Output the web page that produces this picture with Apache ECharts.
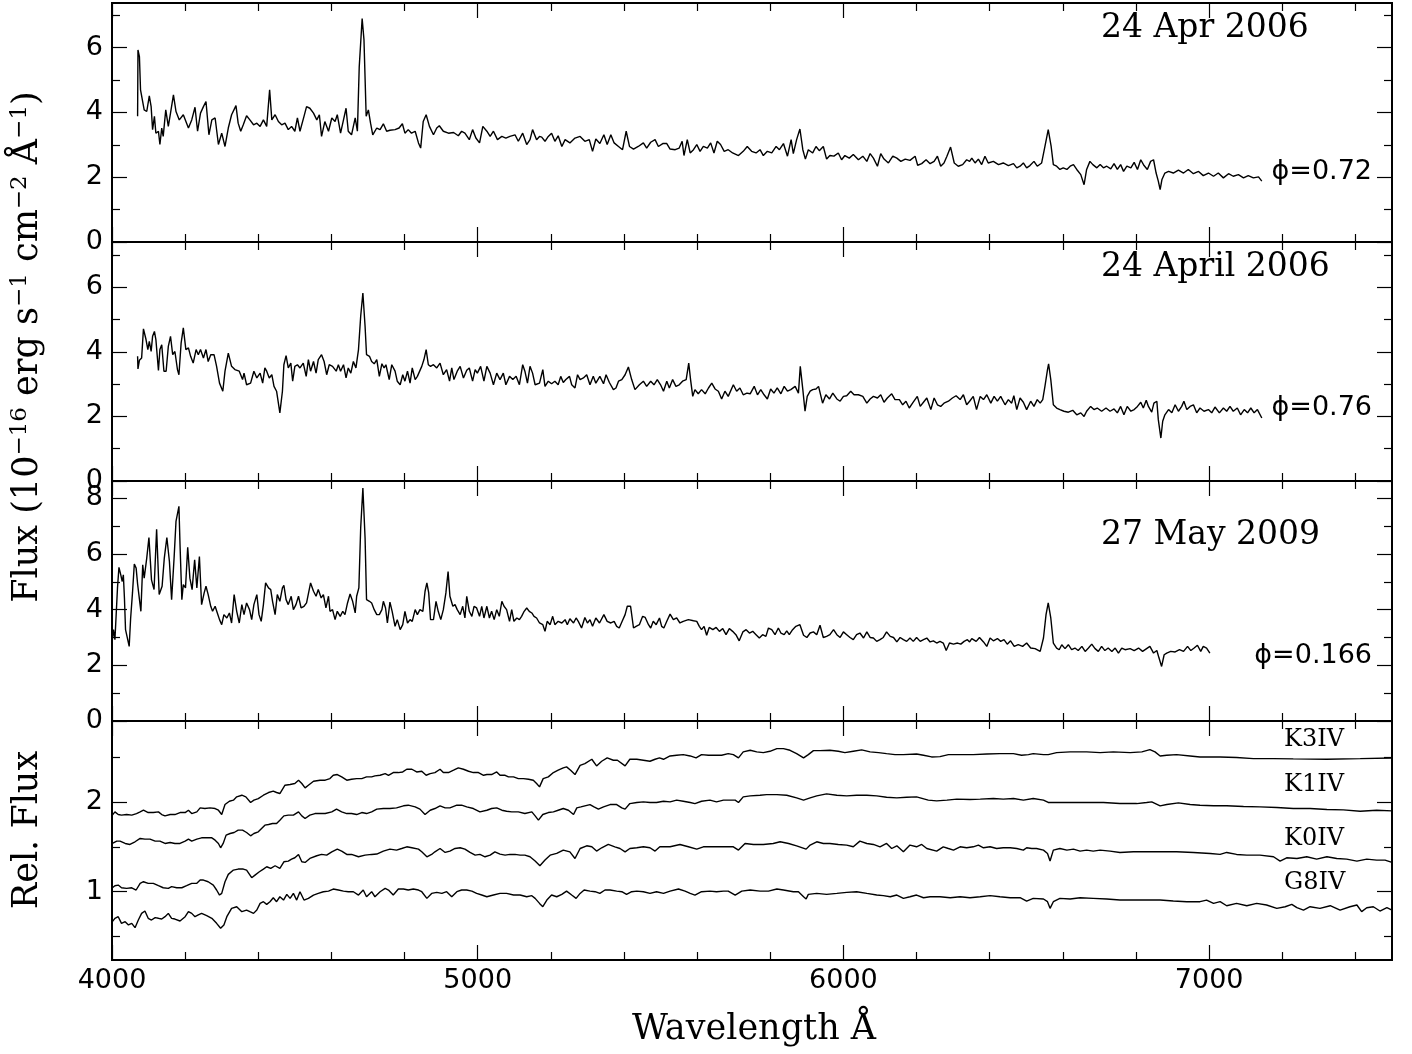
<!DOCTYPE html>
<html>
<head>
<meta charset="utf-8">
<script src="https://cdn.jsdelivr.net/npm/echarts@6/dist/echarts.min.js"></script>
<style>html,body{margin:0;padding:0;background:#fff}#c{width:1412px;height:1054px}</style>
</head>
<body>
<div id="c"></div>
<script>
// ---------- DATA ----------
const wavelengthMajor = [4000, 5000, 6000, 7000];
const wavelengthMinor = [4200,4400,4600,4800,5200,5400,5600,5800,6200,6400,6600,6800,7200,7400];

const dateLabels = ['24 Apr 2006', '24 April 2006', '27 May 2009'];
const phaseLabels = ['\u03d5=0.72', '\u03d5=0.76', '\u03d5=0.166'];
const templateNames = ['K3IV', 'K1IV', 'K0IV', 'G8IV'];

// Spectrum 1: 24 Apr 2006 (phi = 0.72)  [wavelength, flux]
const spec2006a = [[4070,3.88],[4071,5.93],[4075,5.72],[4078,4.70],[4083,4.65],[4088,4.08],[4095,4.03],[4102,4.51],[4107,4.18],[4111,3.47],[4116,3.88],[4120,3.36],[4127,3.42],[4131,3.01],[4136,3.52],[4140,3.26],[4147,4.08],[4154,3.57],[4160,3.98],[4168,4.54],[4175,4.03],[4184,3.77],[4195,3.93],[4209,3.52],[4218,3.77],[4227,4.16],[4234,3.42],[4242,3.98],[4250,4.18],[4257,4.34],[4265,3.31],[4273,3.77],[4282,3.83],[4291,3.01],[4300,3.36],[4309,2.95],[4318,3.52],[4327,3.93],[4339,4.21],[4345,3.67],[4352,3.42],[4359,3.62],[4368,3.90],[4377,3.77],[4387,3.62],[4396,3.67],[4405,3.57],[4414,3.77],[4423,3.57],[4431,4.70],[4437,3.77],[4446,3.93],[4455,3.72],[4464,3.62],[4473,3.67],[4482,3.47],[4491,3.57],[4500,3.42],[4507,3.83],[4514,3.42],[4525,3.88],[4532,4.18],[4541,4.13],[4551,3.98],[4560,3.77],[4567,3.93],[4573,3.26],[4582,3.72],[4592,3.42],[4601,3.83],[4610,3.72],[4616,3.93],[4625,3.36],[4633,3.77],[4640,4.13],[4646,3.42],[4655,3.31],[4665,3.83],[4671,3.42],[4676,5.40],[4684,6.90],[4689,6.24],[4695,3.88],[4701,4.08],[4707,3.67],[4713,3.31],[4724,3.52],[4733,3.47],[4742,3.65],[4751,3.42],[4760,3.45],[4774,3.47],[4785,3.52],[4794,3.65],[4801,3.36],[4810,3.47],[4819,3.36],[4829,3.42],[4838,3.06],[4844,2.90],[4851,3.72],[4859,3.93],[4868,3.57],[4879,3.31],[4888,3.52],[4895,3.59],[4906,3.42],[4920,3.36],[4934,3.38],[4947,3.28],[4956,3.42],[4965,3.36],[4977,3.16],[4986,3.47],[4995,3.21],[5005,3.06],[5014,3.57],[5025,3.42],[5034,3.26],[5043,3.42],[5054,3.16],[5066,3.26],[5077,3.21],[5088,3.26],[5102,3.31],[5111,3.11],[5123,3.36],[5134,3.01],[5143,3.16],[5150,3.47],[5161,3.16],[5169,3.26],[5175,3.24],[5184,3.11],[5193,3.26],[5202,3.36],[5211,3.11],[5220,3.28],[5230,2.95],[5239,3.16],[5252,3.06],[5266,3.21],[5280,3.26],[5293,3.11],[5305,3.16],[5314,2.80],[5323,3.18],[5334,3.04],[5345,3.31],[5354,3.01],[5364,3.31],[5373,3.06],[5385,2.95],[5396,2.85],[5406,3.42],[5415,2.95],[5426,2.87],[5439,2.95],[5453,3.06],[5462,2.90],[5473,3.08],[5485,3.16],[5494,2.95],[5506,3.04],[5517,3.04],[5526,2.87],[5540,2.85],[5551,2.90],[5559,3.11],[5564,2.67],[5573,3.16],[5581,2.75],[5590,2.85],[5599,3.01],[5608,2.80],[5617,2.95],[5628,2.90],[5637,3.06],[5646,2.75],[5655,3.11],[5664,3.01],[5674,2.80],[5685,2.85],[5697,2.75],[5713,2.67],[5726,2.80],[5737,2.95],[5749,2.80],[5761,2.75],[5772,2.85],[5781,2.67],[5792,2.80],[5804,2.75],[5816,2.95],[5825,2.85],[5836,3.04],[5847,2.65],[5857,3.16],[5863,2.73],[5872,3.16],[5881,3.49],[5889,2.85],[5896,2.56],[5904,2.85],[5916,2.75],[5925,2.95],[5934,2.82],[5945,2.95],[5954,2.56],[5963,2.67],[5974,2.65],[5986,2.75],[5995,2.54],[6004,2.67],[6016,2.59],[6027,2.70],[6041,2.54],[6053,2.65],[6064,2.49],[6073,2.73],[6082,2.59],[6093,2.34],[6102,2.73],[6111,2.56],[6123,2.44],[6135,2.65],[6146,2.59],[6157,2.49],[6169,2.56],[6182,2.52],[6196,2.65],[6203,2.37],[6214,2.42],[6226,2.54],[6237,2.42],[6248,2.49],[6257,2.65],[6266,2.34],[6275,2.44],[6283,2.65],[6293,2.93],[6303,2.44],[6314,2.34],[6326,2.39],[6337,2.54],[6345,2.49],[6351,2.59],[6360,2.44],[6369,2.56],[6378,2.39],[6387,2.65],[6396,2.44],[6410,2.49],[6424,2.39],[6437,2.44],[6451,2.36],[6465,2.42],[6474,2.29],[6483,2.34],[6492,2.44],[6501,2.29],[6510,2.36],[6521,2.49],[6530,2.34],[6542,2.44],[6551,2.95],[6560,3.47],[6568,2.95],[6574,2.39],[6583,2.34],[6592,2.24],[6601,2.29],[6611,2.24],[6620,2.34],[6629,2.39],[6638,2.24],[6649,2.08],[6658,1.77],[6665,2.24],[6674,2.49],[6682,2.39],[6693,2.29],[6702,2.39],[6711,2.29],[6720,2.34],[6731,2.26],[6740,2.42],[6749,2.24],[6758,2.39],[6766,2.18],[6775,2.34],[6786,2.29],[6795,2.46],[6804,2.24],[6813,2.54],[6822,2.36],[6831,2.24],[6840,2.49],[6848,2.54],[6855,2.13],[6861,1.88],[6866,1.62],[6871,1.93],[6879,2.13],[6889,2.18],[6902,2.13],[6916,2.22],[6930,2.13],[6943,2.24],[6957,2.11],[6971,2.18],[6984,2.05],[6998,2.13],[7012,2.03],[7025,2.13],[7039,1.98],[7053,2.11],[7066,2.03],[7080,2.08],[7094,1.98],[7107,2.05],[7121,1.98],[7135,2.01],[7144,1.88]];

// Spectrum 2: 24 April 2006 (phi = 0.76)
const spec2006b = [[4070,3.86],[4071,3.47],[4075,3.74],[4081,3.81],[4086,4.71],[4093,4.38],[4098,4.07],[4102,4.32],[4107,4.01],[4111,4.48],[4116,4.63],[4120,4.38],[4127,3.42],[4131,4.07],[4136,4.22],[4142,3.40],[4148,3.40],[4154,4.17],[4160,4.48],[4166,3.91],[4172,4.01],[4179,3.45],[4183,3.29],[4189,4.27],[4195,4.74],[4202,4.07],[4209,4.12],[4215,3.86],[4222,3.65],[4230,4.07],[4236,3.91],[4242,4.07],[4250,3.81],[4257,4.07],[4263,3.70],[4270,3.91],[4279,3.91],[4286,3.55],[4294,3.03],[4303,2.78],[4309,3.40],[4318,3.96],[4327,3.55],[4336,3.45],[4348,3.40],[4357,3.14],[4361,3.34],[4368,2.98],[4379,3.03],[4388,3.40],[4396,3.19],[4405,3.34],[4412,3.03],[4418,3.50],[4423,3.40],[4430,3.19],[4437,3.29],[4443,2.93],[4450,2.78],[4459,2.11],[4466,2.78],[4470,3.60],[4476,3.88],[4482,3.50],[4489,3.65],[4494,3.09],[4500,3.55],[4507,3.60],[4514,3.50],[4523,3.65],[4531,3.24],[4537,3.76],[4543,3.40],[4551,3.70],[4558,3.34],[4564,3.76],[4573,3.91],[4580,3.70],[4587,3.29],[4594,3.60],[4603,3.55],[4613,3.40],[4619,3.60],[4625,3.40],[4633,3.60],[4640,3.19],[4646,3.50],[4653,3.34],[4660,3.70],[4667,3.50],[4674,4.07],[4680,5.10],[4686,5.82],[4692,4.79],[4696,3.91],[4704,3.86],[4710,3.70],[4717,3.63],[4724,3.76],[4731,3.24],[4738,3.63],[4744,3.50],[4749,3.60],[4758,3.14],[4765,3.60],[4774,3.40],[4780,3.09],[4788,2.98],[4795,3.29],[4801,3.09],[4808,3.40],[4815,3.03],[4821,3.50],[4829,3.14],[4835,3.24],[4840,3.24],[4847,3.55],[4853,3.76],[4859,4.07],[4865,3.60],[4871,3.55],[4879,3.60],[4888,3.50],[4897,3.65],[4906,3.29],[4915,3.45],[4923,3.09],[4929,3.50],[4935,3.14],[4944,3.40],[4952,3.55],[4961,3.19],[4970,3.43],[4977,3.50],[4986,3.09],[4993,3.45],[4999,3.34],[5008,3.55],[5017,3.09],[5025,3.55],[5034,3.34],[5043,2.98],[5052,3.34],[5061,3.14],[5070,3.34],[5077,2.98],[5087,3.24],[5096,3.14],[5105,3.24],[5114,2.98],[5123,3.60],[5129,3.40],[5136,3.03],[5143,3.55],[5150,3.34],[5157,2.98],[5161,2.93],[5169,3.03],[5178,3.45],[5184,2.93],[5193,3.09],[5202,3.01],[5211,3.09],[5220,2.98],[5227,3.24],[5234,3.05],[5241,3.14],[5251,3.24],[5257,2.98],[5266,2.88],[5273,3.29],[5280,3.14],[5289,3.19],[5298,3.29],[5307,2.98],[5316,3.24],[5323,3.03],[5334,3.24],[5344,3.01],[5351,3.29],[5360,3.05],[5371,2.83],[5378,2.88],[5385,3.09],[5394,3.14],[5403,3.29],[5412,3.53],[5421,3.14],[5430,2.83],[5442,2.98],[5453,3.09],[5462,2.93],[5473,3.09],[5482,2.98],[5491,3.14],[5500,2.98],[5508,2.78],[5517,3.09],[5524,2.88],[5533,3.14],[5542,2.93],[5551,2.98],[5560,3.09],[5570,3.14],[5577,3.65],[5582,3.14],[5588,2.62],[5594,2.83],[5603,2.70],[5612,2.83],[5622,2.70],[5631,2.88],[5640,3.03],[5649,2.85],[5658,2.78],[5667,2.54],[5676,2.78],[5685,2.62],[5699,2.98],[5708,2.78],[5717,2.88],[5726,2.67],[5736,2.72],[5745,2.70],[5756,2.93],[5765,2.67],[5774,2.83],[5783,2.67],[5792,2.54],[5801,2.85],[5810,2.72],[5819,2.88],[5829,2.70],[5838,2.93],[5847,2.78],[5856,2.83],[5868,2.93],[5877,2.72],[5882,3.55],[5889,2.83],[5895,2.16],[5901,2.62],[5909,2.78],[5916,2.83],[5925,2.85],[5932,2.93],[5943,2.41],[5952,2.67],[5962,2.54],[5971,2.72],[5982,2.54],[5991,2.47],[6000,2.62],[6009,2.64],[6020,2.78],[6029,2.67],[6041,2.67],[6053,2.62],[6064,2.41],[6073,2.54],[6082,2.62],[6093,2.57],[6102,2.67],[6111,2.44],[6120,2.57],[6132,2.70],[6141,2.52],[6153,2.52],[6162,2.36],[6171,2.47],[6180,2.26],[6189,2.41],[6202,2.62],[6210,2.31],[6221,2.47],[6228,2.57],[6239,2.21],[6248,2.57],[6257,2.36],[6266,2.31],[6275,2.41],[6287,2.47],[6298,2.57],[6308,2.64],[6319,2.52],[6328,2.67],[6337,2.36],[6345,2.47],[6355,2.62],[6364,2.21],[6374,2.62],[6383,2.52],[6392,2.67],[6403,2.41],[6412,2.62],[6421,2.47],[6430,2.62],[6442,2.36],[6451,2.52],[6460,2.41],[6466,2.64],[6474,2.21],[6483,2.57],[6492,2.44],[6501,2.21],[6512,2.47],[6521,2.31],[6530,2.52],[6538,2.41],[6545,2.52],[6551,2.93],[6558,3.45],[6561,3.63],[6567,3.14],[6574,2.36],[6583,2.26],[6592,2.21],[6603,2.16],[6615,2.13],[6627,2.19],[6638,2.05],[6649,2.11],[6658,2.00],[6665,2.16],[6676,2.31],[6685,2.21],[6694,2.26],[6706,2.16],[6718,2.26],[6729,2.16],[6740,2.23],[6749,2.11],[6758,2.31],[6767,2.05],[6776,2.31],[6786,2.16],[6795,2.21],[6804,2.31],[6813,2.44],[6820,2.26],[6828,2.50],[6834,2.31],[6843,2.13],[6849,2.41],[6857,2.47],[6861,1.90],[6868,1.33],[6873,1.85],[6879,2.05],[6889,2.21],[6898,2.11],[6907,2.36],[6916,2.16],[6925,2.31],[6931,2.47],[6939,2.21],[6948,2.31],[6957,2.36],[6966,2.11],[6975,2.26],[6986,2.16],[6998,2.21],[7007,2.11],[7016,2.29],[7028,2.11],[7039,2.26],[7048,2.16],[7057,2.31],[7066,2.16],[7077,2.26],[7086,2.05],[7096,2.21],[7105,2.11],[7114,2.26],[7123,2.11],[7132,2.21],[7144,1.95]];

// Spectrum 3: 27 May 2009 (phi = 0.166)
const spec2009 = [[4001,2.92],[4004,3.28],[4008,2.92],[4013,2.98],[4015,4.78],[4019,5.52],[4024,5.25],[4028,5.01],[4031,5.25],[4034,4.42],[4037,3.28],[4042,3.22],[4047,2.68],[4051,3.70],[4056,4.60],[4061,5.64],[4066,5.49],[4070,4.92],[4075,4.90],[4079,3.94],[4084,5.61],[4088,5.13],[4095,5.85],[4101,6.59],[4108,5.07],[4115,4.72],[4122,6.89],[4129,4.54],[4137,4.84],[4143,5.85],[4150,6.59],[4157,5.73],[4163,4.36],[4170,5.91],[4175,7.17],[4179,7.23],[4183,7.71],[4186,6.33],[4191,4.36],[4195,4.90],[4201,4.78],[4207,6.24],[4213,5.13],[4219,4.72],[4226,5.79],[4232,4.78],[4239,5.91],[4245,4.18],[4252,4.60],[4257,4.84],[4263,4.54],[4270,4.12],[4275,3.94],[4282,4.12],[4288,3.88],[4294,3.64],[4300,3.46],[4306,3.82],[4314,3.70],[4321,3.88],[4327,3.52],[4334,4.54],[4341,3.94],[4348,3.52],[4355,4.18],[4361,3.82],[4368,4.24],[4376,4.00],[4382,3.64],[4388,4.18],[4396,4.54],[4402,3.82],[4408,3.58],[4414,4.18],[4420,4.96],[4428,4.78],[4434,4.72],[4439,4.30],[4446,3.82],[4452,4.54],[4459,4.30],[4466,4.78],[4470,4.87],[4476,4.36],[4482,4.18],[4490,4.48],[4496,4.00],[4503,4.18],[4510,4.48],[4517,4.06],[4525,4.12],[4532,4.24],[4537,4.30],[4543,4.96],[4551,4.66],[4558,4.48],[4564,4.72],[4572,4.42],[4578,4.54],[4585,4.06],[4592,4.48],[4596,3.94],[4603,4.00],[4610,3.64],[4616,3.94],[4624,3.76],[4631,3.94],[4637,3.82],[4644,4.24],[4651,4.56],[4658,4.30],[4665,3.88],[4669,4.48],[4675,4.78],[4680,6.93],[4686,8.37],[4692,6.57],[4696,4.36],[4704,4.30],[4710,4.24],[4717,4.00],[4724,3.82],[4731,3.82],[4738,4.00],[4742,4.30],[4748,4.06],[4753,3.52],[4760,4.27],[4766,3.94],[4774,3.40],[4780,3.64],[4788,3.28],[4795,3.46],[4801,3.94],[4808,3.52],[4815,3.64],[4821,3.58],[4829,4.00],[4835,3.82],[4842,4.00],[4850,3.94],[4856,4.66],[4861,4.96],[4866,4.60],[4871,3.64],[4879,3.64],[4886,4.30],[4892,3.94],[4899,3.64],[4906,4.00],[4913,4.60],[4919,5.37],[4924,4.48],[4932,4.12],[4938,4.18],[4944,4.00],[4952,3.82],[4959,4.12],[4965,3.70],[4970,4.48],[4977,3.94],[4984,3.76],[4990,4.12],[4997,4.06],[5005,3.76],[5011,4.12],[5017,3.70],[5025,4.12],[5032,3.70],[5038,3.94],[5045,3.64],[5052,4.00],[5059,3.76],[5066,4.30],[5072,4.12],[5079,4.00],[5087,3.58],[5093,4.00],[5099,3.58],[5107,3.70],[5114,3.64],[5120,3.76],[5127,3.94],[5134,4.06],[5141,3.94],[5148,3.88],[5154,3.76],[5161,3.70],[5169,3.52],[5178,3.46],[5184,3.22],[5190,3.58],[5198,3.46],[5205,3.76],[5211,3.46],[5220,3.58],[5230,3.52],[5239,3.64],[5245,3.46],[5252,3.67],[5262,3.52],[5269,3.70],[5275,3.58],[5284,3.34],[5293,3.72],[5300,3.52],[5307,3.64],[5314,3.40],[5323,3.70],[5333,3.52],[5345,3.82],[5354,3.58],[5364,3.52],[5373,3.58],[5380,3.40],[5387,3.34],[5395,3.58],[5403,3.82],[5409,4.12],[5418,4.12],[5426,3.34],[5433,3.40],[5442,3.46],[5451,3.76],[5458,3.72],[5467,3.46],[5473,3.34],[5480,3.58],[5488,3.46],[5497,3.70],[5503,3.40],[5509,3.34],[5517,3.58],[5526,3.84],[5535,3.64],[5544,3.70],[5553,3.52],[5562,3.58],[5576,3.64],[5590,3.60],[5599,3.58],[5606,3.40],[5612,3.28],[5619,3.40],[5626,3.08],[5633,3.36],[5643,3.28],[5652,3.36],[5661,3.22],[5670,3.32],[5679,3.10],[5688,3.32],[5697,3.22],[5706,3.10],[5715,2.88],[5725,3.20],[5734,3.28],[5743,3.16],[5752,3.22],[5761,3.10],[5770,2.98],[5779,3.10],[5788,3.04],[5795,3.34],[5804,3.28],[5813,3.10],[5822,3.34],[5829,3.16],[5838,3.10],[5845,3.24],[5852,3.10],[5861,3.28],[5870,3.40],[5881,3.46],[5891,3.08],[5900,3.00],[5909,3.16],[5918,3.20],[5927,3.10],[5936,3.44],[5945,3.00],[5954,3.04],[5963,3.10],[5973,3.28],[5982,3.10],[5991,3.00],[6000,3.20],[6009,3.10],[6018,3.00],[6027,2.92],[6036,3.10],[6045,3.16],[6055,2.98],[6064,3.20],[6073,3.00],[6082,2.98],[6091,2.86],[6100,2.92],[6109,3.00],[6118,3.20],[6128,3.04],[6137,3.00],[6146,2.84],[6155,3.00],[6164,2.92],[6173,2.86],[6182,2.98],[6191,2.86],[6200,3.00],[6210,2.86],[6219,2.92],[6228,2.98],[6237,2.84],[6246,2.88],[6255,2.80],[6264,2.86],[6273,2.80],[6281,2.53],[6290,2.80],[6301,2.76],[6312,2.80],[6321,2.76],[6330,2.86],[6339,2.92],[6345,2.84],[6351,2.96],[6363,2.86],[6372,3.00],[6383,2.84],[6392,2.68],[6401,2.98],[6410,2.88],[6421,2.96],[6430,2.86],[6439,2.92],[6448,2.76],[6457,2.88],[6467,2.68],[6478,2.74],[6490,2.68],[6501,2.80],[6512,2.62],[6524,2.60],[6538,2.50],[6547,2.98],[6554,3.82],[6560,4.24],[6567,3.70],[6574,2.80],[6583,2.62],[6590,2.56],[6597,2.74],[6606,2.60],[6615,2.74],[6624,2.56],[6633,2.62],[6642,2.53],[6652,2.68],[6661,2.50],[6670,2.62],[6679,2.76],[6688,2.60],[6697,2.50],[6706,2.68],[6715,2.53],[6724,2.62],[6734,2.50],[6743,2.62],[6752,2.44],[6761,2.62],[6770,2.56],[6784,2.60],[6795,2.53],[6807,2.62],[6818,2.50],[6829,2.60],[6838,2.68],[6848,2.44],[6857,2.53],[6863,2.26],[6870,1.96],[6877,2.38],[6884,2.44],[6895,2.50],[6907,2.48],[6919,2.56],[6930,2.50],[6941,2.68],[6950,2.53],[6959,2.62],[6968,2.72],[6977,2.50],[6984,2.68],[6993,2.62],[7002,2.44]];

// Template spectra (relative flux, offset)
const k3iv = [[4001,1.852],[4008,1.889],[4017,1.859],[4026,1.852],[4040,1.859],[4054,1.852],[4067,1.870],[4077,1.889],[4086,1.907],[4099,1.881],[4113,1.881],[4127,1.889],[4136,1.859],[4145,1.844],[4159,1.859],[4172,1.859],[4186,1.881],[4200,1.881],[4209,1.907],[4218,1.870],[4232,1.889],[4241,1.933],[4254,1.926],[4268,1.933],[4282,1.926],[4291,1.907],[4300,1.859],[4309,1.970],[4321,2.007],[4332,2.019],[4341,2.056],[4355,2.074],[4366,2.056],[4379,1.993],[4388,2.019],[4400,2.037],[4414,2.074],[4428,2.104],[4441,2.119],[4450,2.104],[4459,2.093],[4473,2.185],[4487,2.193],[4500,2.204],[4510,2.241],[4519,2.204],[4528,2.156],[4537,2.185],[4551,2.230],[4569,2.241],[4583,2.241],[4596,2.259],[4605,2.296],[4616,2.304],[4628,2.278],[4642,2.241],[4655,2.252],[4669,2.259],[4683,2.259],[4696,2.278],[4710,2.278],[4719,2.289],[4733,2.296],[4747,2.315],[4756,2.296],[4769,2.326],[4783,2.326],[4795,2.333],[4806,2.363],[4820,2.363],[4833,2.333],[4847,2.341],[4859,2.296],[4870,2.315],[4883,2.326],[4897,2.363],[4906,2.326],[4920,2.326],[4934,2.352],[4947,2.378],[4961,2.363],[4975,2.341],[4988,2.326],[5002,2.326],[5016,2.296],[5025,2.304],[5038,2.304],[5052,2.333],[5061,2.296],[5075,2.296],[5084,2.278],[5098,2.278],[5111,2.259],[5125,2.259],[5139,2.252],[5152,2.241],[5161,2.204],[5169,2.167],[5179,2.259],[5193,2.278],[5207,2.326],[5220,2.352],[5234,2.378],[5243,2.389],[5254,2.352],[5266,2.304],[5280,2.407],[5293,2.426],[5312,2.474],[5325,2.400],[5339,2.452],[5354,2.489],[5371,2.463],[5382,2.463],[5403,2.400],[5416,2.474],[5435,2.474],[5453,2.463],[5471,2.452],[5485,2.474],[5497,2.489],[5508,2.474],[5526,2.511],[5544,2.519],[5562,2.526],[5581,2.511],[5597,2.489],[5612,2.526],[5631,2.519],[5649,2.519],[5667,2.519],[5685,2.537],[5699,2.526],[5713,2.489],[5726,2.556],[5745,2.574],[5763,2.556],[5781,2.548],[5799,2.563],[5818,2.593],[5836,2.593],[5854,2.574],[5872,2.537],[5891,2.489],[5904,2.526],[5918,2.570],[5936,2.570],[5963,2.574],[5986,2.563],[6004,2.548],[6027,2.563],[6050,2.578],[6073,2.556],[6096,2.548],[6118,2.537],[6141,2.526],[6164,2.526],[6200,2.533],[6219,2.519],[6241,2.500],[6264,2.504],[6287,2.526],[6319,2.526],[6355,2.526],[6392,2.533],[6428,2.537],[6465,2.537],[6487,2.519],[6506,2.526],[6519,2.537],[6547,2.526],[6560,2.526],[6583,2.548],[6620,2.556],[6665,2.556],[6702,2.548],[6738,2.556],[6784,2.548],[6816,2.556],[6838,2.581],[6852,2.556],[6866,2.511],[6884,2.519],[6911,2.526],[6948,2.511],[6975,2.500],[7030,2.500],[7075,2.493],[7121,2.481],[7176,2.481],[7230,2.478],[7322,2.474],[7413,2.481],[7500,2.489]];

const k1iv = [[4001,1.537],[4013,1.563],[4022,1.563],[4036,1.537],[4049,1.526],[4063,1.556],[4077,1.593],[4090,1.585],[4104,1.585],[4118,1.563],[4131,1.563],[4145,1.537],[4159,1.548],[4172,1.537],[4186,1.537],[4200,1.563],[4209,1.585],[4218,1.563],[4232,1.585],[4245,1.600],[4259,1.600],[4273,1.600],[4282,1.574],[4291,1.537],[4297,1.489],[4304,1.537],[4312,1.630],[4323,1.648],[4334,1.659],[4345,1.685],[4357,1.685],[4368,1.659],[4379,1.622],[4388,1.648],[4400,1.667],[4409,1.704],[4418,1.741],[4428,1.748],[4439,1.759],[4450,1.759],[4459,1.796],[4470,1.844],[4482,1.852],[4496,1.852],[4510,1.889],[4519,1.844],[4528,1.815],[4541,1.852],[4555,1.870],[4569,1.870],[4583,1.870],[4601,1.889],[4614,1.919],[4628,1.889],[4642,1.870],[4655,1.870],[4669,1.859],[4683,1.881],[4696,1.870],[4710,1.889],[4724,1.919],[4742,1.926],[4760,1.926],[4778,1.933],[4797,1.956],[4810,1.963],[4829,1.944],[4842,1.919],[4856,1.859],[4870,1.907],[4883,1.926],[4897,1.956],[4911,1.933],[4924,1.933],[4943,1.963],[4956,1.963],[4970,1.944],[4988,1.926],[5006,1.889],[5025,1.907],[5038,1.926],[5052,1.933],[5066,1.907],[5079,1.896],[5093,1.889],[5111,1.889],[5129,1.870],[5148,1.889],[5157,1.844],[5166,1.796],[5178,1.859],[5193,1.881],[5207,1.889],[5220,1.907],[5234,1.926],[5248,1.907],[5262,1.859],[5271,1.933],[5282,1.944],[5293,1.956],[5307,1.970],[5318,1.944],[5330,1.919],[5344,1.944],[5362,1.970],[5380,1.970],[5394,1.933],[5403,1.919],[5416,1.981],[5435,1.993],[5453,2.000],[5471,1.993],[5489,1.993],[5508,2.007],[5526,2.000],[5544,2.019],[5562,2.007],[5581,1.993],[5594,1.981],[5612,2.007],[5635,2.019],[5653,2.000],[5672,2.019],[5690,2.019],[5704,2.019],[5713,1.993],[5726,2.056],[5745,2.067],[5772,2.074],[5790,2.081],[5818,2.081],[5845,2.074],[5872,2.044],[5891,2.019],[5909,2.044],[5927,2.067],[5954,2.089],[5982,2.074],[6009,2.067],[6036,2.074],[6064,2.074],[6091,2.067],[6118,2.052],[6146,2.044],[6173,2.052],[6200,2.056],[6232,2.019],[6255,2.011],[6283,2.019],[6310,2.030],[6346,2.026],[6374,2.030],[6410,2.037],[6437,2.030],[6465,2.037],[6492,2.019],[6519,2.037],[6547,2.019],[6560,1.993],[6583,1.993],[6620,1.993],[6665,1.993],[6711,1.993],[6756,1.981],[6802,1.981],[6829,1.993],[6843,2.000],[6866,1.956],[6884,1.970],[6916,1.989],[6948,1.970],[6975,1.963],[7012,1.956],[7048,1.956],[7094,1.948],[7139,1.944],[7185,1.937],[7230,1.926],[7276,1.926],[7322,1.915],[7367,1.911],[7413,1.896],[7458,1.907],[7500,1.900]];

const k0iv = [[4001,1.044],[4008,1.067],[4017,1.074],[4026,1.044],[4040,1.037],[4054,1.044],[4066,1.019],[4077,1.093],[4086,1.111],[4099,1.093],[4113,1.093],[4127,1.067],[4140,1.044],[4154,1.037],[4163,1.056],[4177,1.044],[4191,1.044],[4204,1.067],[4218,1.093],[4232,1.093],[4241,1.130],[4250,1.130],[4263,1.111],[4277,1.074],[4286,1.019],[4294,0.963],[4300,0.981],[4309,1.111],[4318,1.193],[4332,1.241],[4345,1.252],[4359,1.252],[4368,1.241],[4382,1.156],[4391,1.185],[4403,1.222],[4414,1.252],[4423,1.278],[4434,1.259],[4446,1.289],[4459,1.259],[4470,1.333],[4482,1.341],[4491,1.363],[4500,1.378],[4510,1.415],[4519,1.333],[4528,1.326],[4541,1.370],[4560,1.400],[4573,1.415],[4587,1.407],[4601,1.444],[4616,1.474],[4628,1.452],[4642,1.415],[4655,1.415],[4674,1.389],[4692,1.407],[4710,1.415],[4724,1.419],[4742,1.452],[4760,1.474],[4778,1.463],[4792,1.481],[4806,1.500],[4820,1.489],[4838,1.474],[4847,1.444],[4861,1.389],[4874,1.415],[4883,1.444],[4897,1.481],[4911,1.437],[4924,1.452],[4938,1.481],[4952,1.489],[4965,1.474],[4979,1.437],[4993,1.407],[5006,1.415],[5020,1.389],[5034,1.407],[5047,1.444],[5061,1.419],[5075,1.407],[5088,1.415],[5102,1.415],[5116,1.407],[5129,1.407],[5143,1.389],[5157,1.341],[5170,1.289],[5184,1.352],[5198,1.407],[5216,1.426],[5234,1.463],[5252,1.444],[5266,1.370],[5280,1.481],[5298,1.511],[5312,1.500],[5325,1.452],[5339,1.489],[5357,1.526],[5375,1.500],[5389,1.481],[5403,1.444],[5416,1.481],[5435,1.489],[5453,1.500],[5471,1.489],[5485,1.452],[5498,1.500],[5526,1.500],[5553,1.526],[5576,1.500],[5599,1.474],[5617,1.500],[5640,1.500],[5663,1.500],[5685,1.500],[5699,1.500],[5713,1.463],[5731,1.537],[5754,1.526],[5781,1.526],[5808,1.537],[5827,1.556],[5850,1.537],[5872,1.511],[5898,1.474],[5909,1.519],[5927,1.556],[5945,1.537],[5963,1.537],[5986,1.526],[6009,1.519],[6027,1.500],[6045,1.563],[6064,1.537],[6082,1.526],[6100,1.500],[6118,1.537],[6132,1.481],[6146,1.511],[6164,1.444],[6182,1.519],[6200,1.500],[6214,1.526],[6228,1.481],[6255,1.452],[6273,1.500],[6287,1.481],[6301,1.463],[6319,1.500],[6337,1.489],[6355,1.500],[6369,1.519],[6383,1.489],[6401,1.500],[6419,1.481],[6437,1.489],[6456,1.489],[6474,1.481],[6492,1.463],[6501,1.489],[6515,1.481],[6528,1.481],[6547,1.463],[6558,1.426],[6565,1.341],[6574,1.463],[6592,1.481],[6611,1.463],[6629,1.474],[6647,1.452],[6665,1.463],[6683,1.452],[6702,1.463],[6729,1.452],[6756,1.437],[6793,1.444],[6829,1.444],[6866,1.444],[6911,1.444],[6957,1.437],[7003,1.426],[7030,1.415],[7048,1.437],[7075,1.415],[7103,1.407],[7139,1.407],[7176,1.389],[7194,1.341],[7212,1.378],[7240,1.370],[7267,1.389],[7294,1.363],[7322,1.389],[7349,1.370],[7376,1.363],[7404,1.341],[7431,1.363],[7458,1.352],[7481,1.352],[7500,1.326]];

const g8iv = [[4001,0.667],[4008,0.704],[4017,0.722],[4026,0.648],[4036,0.667],[4045,0.630],[4054,0.648],[4063,0.600],[4072,0.685],[4081,0.759],[4090,0.785],[4099,0.704],[4108,0.685],[4118,0.711],[4127,0.704],[4136,0.696],[4145,0.722],[4154,0.759],[4163,0.704],[4172,0.696],[4186,0.674],[4200,0.722],[4209,0.778],[4218,0.759],[4227,0.722],[4236,0.741],[4245,0.759],[4259,0.733],[4273,0.704],[4286,0.648],[4297,0.593],[4306,0.630],[4314,0.722],[4327,0.815],[4341,0.833],[4355,0.778],[4368,0.796],[4377,0.778],[4387,0.759],[4396,0.796],[4405,0.870],[4414,0.889],[4423,0.859],[4432,0.889],[4441,0.933],[4450,0.889],[4459,0.944],[4469,0.907],[4478,0.970],[4487,0.926],[4496,0.981],[4505,0.907],[4514,1.000],[4525,0.907],[4537,0.926],[4551,0.963],[4564,0.981],[4578,1.000],[4592,1.007],[4605,1.030],[4619,1.019],[4633,1.007],[4646,1.000],[4660,1.000],[4674,0.963],[4687,1.019],[4696,0.944],[4710,1.000],[4719,0.944],[4733,1.000],[4747,1.037],[4756,1.019],[4769,0.963],[4783,1.030],[4797,1.030],[4810,1.019],[4824,1.030],[4838,1.019],[4847,1.000],[4861,0.926],[4874,0.981],[4888,0.993],[4902,0.981],[4915,1.000],[4929,0.944],[4943,1.000],[4956,1.019],[4970,1.019],[4984,1.007],[4997,0.981],[5011,0.963],[5025,0.944],[5043,0.963],[5061,0.981],[5079,0.981],[5098,0.963],[5116,0.963],[5134,0.944],[5148,0.956],[5157,0.926],[5169,0.870],[5178,0.833],[5189,0.907],[5202,0.963],[5216,0.944],[5230,0.970],[5243,1.007],[5257,0.963],[5269,0.926],[5280,0.981],[5291,1.019],[5307,1.007],[5321,1.000],[5334,0.981],[5348,1.019],[5362,1.019],[5380,1.007],[5394,1.000],[5407,0.970],[5421,1.000],[5435,1.007],[5453,1.000],[5471,0.981],[5489,1.000],[5508,0.981],[5526,1.007],[5549,1.030],[5567,1.007],[5581,0.981],[5594,0.963],[5612,1.000],[5635,1.007],[5653,1.000],[5672,1.007],[5685,1.007],[5704,0.963],[5722,1.007],[5745,1.019],[5772,1.007],[5795,1.007],[5818,1.030],[5836,1.019],[5863,1.000],[5877,1.000],[5891,0.944],[5898,0.919],[5904,0.970],[5927,0.981],[5954,0.970],[5982,0.981],[6009,0.993],[6036,1.000],[6064,0.981],[6091,0.963],[6109,0.956],[6128,0.944],[6146,0.963],[6164,0.926],[6182,0.944],[6200,0.963],[6219,0.933],[6237,0.944],[6264,0.944],[6292,0.933],[6319,0.944],[6346,0.933],[6374,0.944],[6401,0.956],[6428,0.944],[6456,0.933],[6483,0.933],[6501,0.896],[6519,0.926],[6547,0.919],[6558,0.889],[6565,0.815],[6574,0.889],[6592,0.926],[6620,0.919],[6647,0.933],[6683,0.926],[6720,0.919],[6756,0.907],[6793,0.907],[6829,0.907],[6866,0.907],[6902,0.896],[6939,0.889],[6975,0.889],[6993,0.907],[7012,0.870],[7030,0.889],[7048,0.844],[7075,0.870],[7103,0.844],[7130,0.870],[7157,0.852],[7185,0.815],[7208,0.833],[7226,0.859],[7240,0.822],[7258,0.796],[7276,0.833],[7303,0.815],[7331,0.844],[7358,0.796],[7385,0.833],[7404,0.852],[7417,0.778],[7431,0.822],[7449,0.833],[7467,0.785],[7486,0.822],[7500,0.796]];

const fluxTicksMajor = [[0,2,4,6],[0,2,4,6],[0,2,4,6,8],[1,2]];
const fluxTicksMinor = [[1,3,5,7],[1,3,5,7],[1,3,5,7],[0.5,1.5,2.5]];
const fluxRanges = [[0,7.38],[0,7.4],[0,8.62],[0.24,2.9]];

// ---------- LAYOUT / STYLE ----------
const PLOT_LEFT = 112, PLOT_W = 1280;
const panelTops = [3, 242, 481, 721];
const panelHeights = [239, 239, 240, 239];
const BLACK = '#000';
const SANS = '"DejaVu Sans", sans-serif';
const SERIF = '"DejaVu Serif", serif';
const MAJOR_LEN = 15, MINOR_LEN = 8;

const chart = echarts.init(document.getElementById('c'), null, {renderer: 'canvas'});

const grids = [], xAxes = [], yAxes = [], series = [];
const tickStyle = {color: BLACK, width: 1.2};

for (let g = 0; g < 4; g++) {
  grids.push({left: PLOT_LEFT, top: panelTops[g], width: PLOT_W, height: panelHeights[g],
    show: true, borderColor: BLACK, borderWidth: 2, backgroundColor: 'transparent',
    containLabel: false, outerBoundsMode: 'none'});
  const xb = {type: 'value', gridIndex: g, min: 4000, max: 7500, splitLine: {show: false},
    axisLine: {show: false, onZero: false}};
  [['bottom', wavelengthMajor, MAJOR_LEN, g === 3], ['bottom', wavelengthMinor, MINOR_LEN, false],
   ['top', wavelengthMajor, MAJOR_LEN, false], ['top', wavelengthMinor, MINOR_LEN, false]].forEach(([pos, vals, len, lab]) => {
    xAxes.push(Object.assign({}, xb, {position: pos,
      axisTick: {show: true, inside: true, length: len, customValues: vals, lineStyle: tickStyle},
      axisLabel: lab ? {show: true, customValues: vals, formatter: v => String(v), color: BLACK,
        fontFamily: SANS, fontSize: 27, margin: 7} : {show: false}}));
  });
  const yb = {type: 'value', gridIndex: g, min: fluxRanges[g][0], max: fluxRanges[g][1],
    splitLine: {show: false}, axisLine: {show: false, onZero: false}};
  [['left', fluxTicksMajor[g], MAJOR_LEN, true], ['left', fluxTicksMinor[g], MINOR_LEN, false],
   ['right', fluxTicksMajor[g], MAJOR_LEN, false], ['right', fluxTicksMinor[g], MINOR_LEN, false]].forEach(([pos, vals, len, lab]) => {
    yAxes.push(Object.assign({}, yb, {position: pos,
      axisTick: {show: true, inside: true, length: len, customValues: vals, lineStyle: tickStyle},
      axisLabel: lab ? {show: true, customValues: vals, formatter: v => String(v), color: BLACK,
        fontFamily: SANS, fontSize: 27, margin: 9} : {show: false}}));
  });
}

function lineSeries(g, data) {
  return {type: 'line', xAxisIndex: g * 4, yAxisIndex: g * 4, data: data, showSymbol: false,
    symbol: 'none', lineStyle: {color: BLACK, width: 1.4}, silent: true, animation: false, z: 3};
}
series.push(lineSeries(0, spec2006a));
series.push(lineSeries(1, spec2006b));
series.push(lineSeries(2, spec2009));
[k3iv, k1iv, k0iv, g8iv].forEach(d => series.push(lineSeries(3, d)));

const graphic = [];
const dateY = [28, 267, 535];
const phaseY = [172, 408, 656];
for (let i = 0; i < 3; i++) {
  graphic.push({type: 'text', x: 1101, y: dateY[i], silent: true,
    style: {text: dateLabels[i], fill: BLACK, font: '33px ' + SERIF, textAlign: 'left', textVerticalAlign: 'middle'}});
  graphic.push({type: 'text', x: 1372, y: phaseY[i], silent: true,
    style: {text: phaseLabels[i], fill: BLACK, font: '27px ' + SANS, textAlign: 'right', textVerticalAlign: 'middle'}});
}
const tmplY = [740, 785, 839, 883];
templateNames.forEach((t, i) => graphic.push({type: 'text', x: 1284, y: tmplY[i], silent: true,
  style: {text: t, fill: BLACK, font: '24px ' + SERIF, textAlign: 'left', textVerticalAlign: 'middle'}}));

graphic.push({type: 'text', x: 754, y: 1030, silent: true,
  style: {text: 'Wavelength \u00c5', fill: BLACK, font: '35px ' + SERIF, textAlign: 'center', textVerticalAlign: 'middle'}});
graphic.push({type: 'text', x: 28, y: 830, rotation: Math.PI / 2, silent: true,
  style: {text: 'Rel. Flux', fill: BLACK, font: '35px ' + SERIF, textAlign: 'center', textVerticalAlign: 'middle'}});
graphic.push({type: 'text', x: 28, y: 347, rotation: Math.PI / 2, silent: true,
  style: {text: '{m|Flux (10}{s|\u221216}{m| erg s}{s|\u22121}{m| cm}{s|\u22122}{m| \u00c5}{s|\u22121}{m|)}',
    fill: BLACK, textAlign: 'center', textVerticalAlign: 'middle',
    rich: {m: {fontSize: 35, fontFamily: SERIF, fill: BLACK},
           s: {fontSize: 23, fontFamily: SERIF, fill: BLACK, padding: [0, 0, 16, 0]}}}});

chart.setOption({animation: false, backgroundColor: '#fff', grid: grids, xAxis: xAxes, yAxis: yAxes,
  series: series, graphic: graphic});
</script>
</body>
</html>
